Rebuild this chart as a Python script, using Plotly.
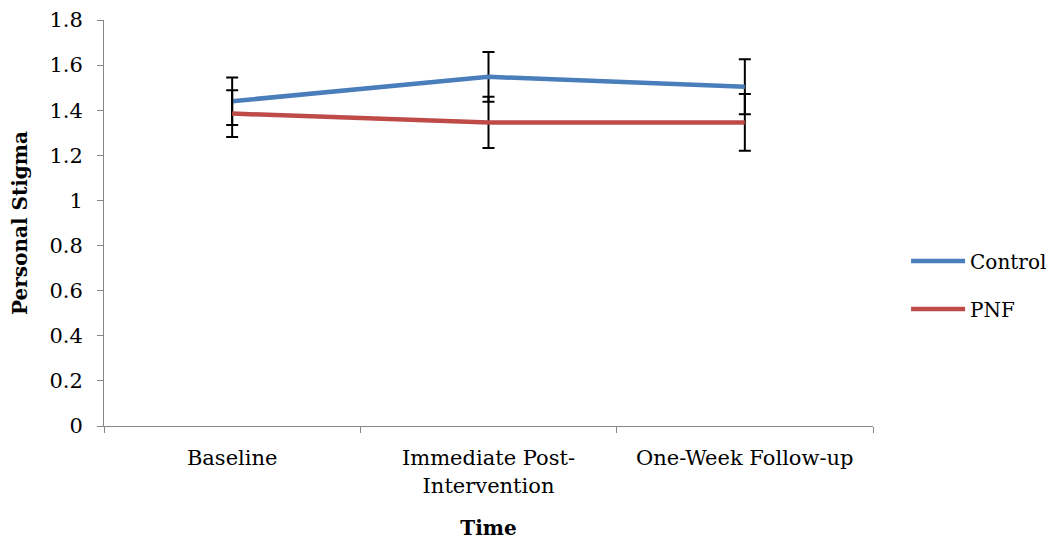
import plotly.graph_objects as go

categories = ["Baseline", "Immediate Post-<br>Intervention", "One-Week Follow-up"]
control = [1.44, 1.548, 1.504]
control_err = [0.105, 0.11, 0.122]
pnf = [1.385, 1.346, 1.346]
pnf_err = [0.104, 0.114, 0.126]

font_family = "DejaVu Serif, Liberation Serif, serif"

fig = go.Figure()
fig.add_trace(go.Scatter(
    x=categories, y=control, name="Control", mode="lines", legendgroup="a",
    line=dict(color="#4a7ebb", width=4.5),
    error_y=dict(type="data", array=control_err, visible=True, color="black", thickness=2, width=6),
))
fig.add_trace(go.Scatter(
    x=categories, y=pnf, name="PNF", mode="lines", legendgroup="b",
    line=dict(color="#be4b48", width=4.5),
    error_y=dict(type="data", array=pnf_err, visible=True, color="black", thickness=2, width=6),
))

fig.update_layout(
    width=1060, height=546,
    margin=dict(l=96, r=195, t=12, b=128, autoexpand=False),
    paper_bgcolor="white", plot_bgcolor="white",
    font=dict(family=font_family, size=21, color="black"),
    showlegend=True,
    legend=dict(x=1.043, y=0.347, xanchor="left", yanchor="middle",
                font=dict(size=20), itemwidth=54, tracegroupgap=19,
                bgcolor="rgba(0,0,0,0)"),
    xaxis=dict(
        type="category", tickson="boundaries", ticks="outside", ticklen=6,
        range=[-0.5, 2.5], automargin=False, ticklabelstandoff=13,
        tickcolor="#868686", showline=True, linecolor="#868686", linewidth=1,
        showgrid=False, zeroline=False,
        title=dict(text="<b>Time</b>", font=dict(size=20), standoff=24),
        tickfont=dict(size=21),
    ),
    yaxis=dict(
        range=[0, 1.8], dtick=0.2, tickformat="~g", ticks="outside", ticklen=6,
        automargin=False, ticklabelstandoff=10,
        tickcolor="#868686", showline=True, linecolor="#868686", linewidth=1,
        showgrid=False, zeroline=False,
        title=dict(text="<b>Personal Stigma</b>", font=dict(size=20), standoff=18),
        tickfont=dict(size=21),
    ),
)

fig.write_html("out.html")
